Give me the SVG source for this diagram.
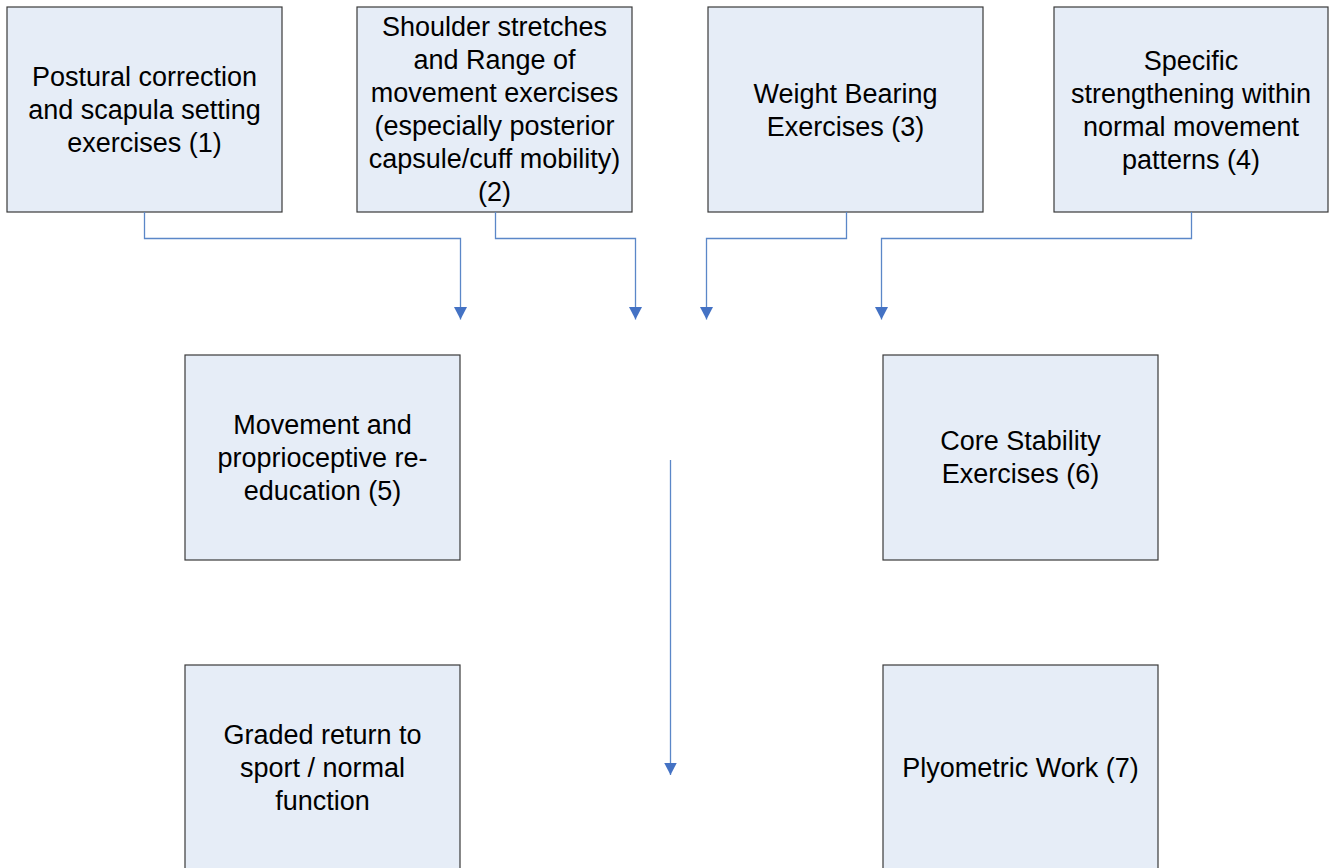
<svg xmlns="http://www.w3.org/2000/svg" width="1329" height="868" viewBox="0 0 1329 868">
<style>
.box{fill:#e6edf7;stroke:#3a3a3a;stroke-width:1.2}
.t{font-family:"Liberation Sans",Arial,sans-serif;font-size:27px;fill:#000;text-anchor:middle}
.c{fill:none;stroke:#5b87c8;stroke-width:1.3}
</style>
<defs>
<marker id="ah" markerWidth="13" markerHeight="14" refX="12.5" refY="7" orient="auto" markerUnits="userSpaceOnUse" viewBox="0 0 13 14">
<path d="M0,0.5 L12.5,7 L0,13.5 Z" fill="#4472c4"/>
</marker>
</defs>
<rect width="1329" height="868" fill="#fff"/>
<g id="n1"><rect class="box" x="7" y="7" width="275" height="205"/>
<text class="t" x="144.5" y="86">Postural correction</text><text class="t" x="144.5" y="119">and scapula setting</text><text class="t" x="144.5" y="152">exercises (1)</text></g>
<g id="n2"><rect class="box" x="357" y="7" width="275" height="205"/>
<text class="t" x="494.5" y="36">Shoulder stretches</text><text class="t" x="494.5" y="69">and Range of</text><text class="t" x="494.5" y="102">movement exercises</text><text class="t" x="494.5" y="135">(especially posterior</text><text class="t" x="494.5" y="168">capsule/cuff mobility)</text><text class="t" x="494.5" y="201">(2)</text></g>
<g id="n3"><rect class="box" x="708" y="7" width="275" height="205"/>
<text class="t" x="845.5" y="103">Weight Bearing</text><text class="t" x="845.5" y="136">Exercises (3)</text></g>
<g id="n4"><rect class="box" x="1054" y="7" width="274" height="205"/>
<text class="t" x="1191" y="70">Specific</text><text class="t" x="1191" y="103">strengthening within</text><text class="t" x="1191" y="136">normal movement</text><text class="t" x="1191" y="169">patterns (4)</text></g>
<g id="n5"><rect class="box" x="185" y="355" width="275" height="205"/>
<text class="t" x="322.5" y="434">Movement and</text><text class="t" x="322.5" y="467">proprioceptive re-</text><text class="t" x="322.5" y="500">education (5)</text></g>
<g id="n6"><rect class="box" x="883" y="355" width="275" height="205"/>
<text class="t" x="1020.5" y="450">Core Stability</text><text class="t" x="1020.5" y="483">Exercises (6)</text></g>
<g id="n7"><rect class="box" x="185" y="665" width="275" height="210"/>
<text class="t" x="322.5" y="744">Graded return to</text><text class="t" x="322.5" y="777">sport / normal</text><text class="t" x="322.5" y="810">function</text></g>
<g id="n8"><rect class="box" x="883" y="665" width="275" height="210"/>
<text class="t" x="1020.5" y="777">Plyometric Work (7)</text></g>
<g id="connectors">
<path class="c" d="M144.5,212 V238.5 H460.5 V319.5" marker-end="url(#ah)"/>
<path class="c" d="M495.5,212 V238.5 H635.5 V319.5" marker-end="url(#ah)"/>
<path class="c" d="M846.5,212 V238.5 H706.5 V319.5" marker-end="url(#ah)"/>
<path class="c" d="M1191.5,212 V238.5 H881.5 V319.5" marker-end="url(#ah)"/>
<path class="c" d="M670.5,460 V775" marker-end="url(#ah)"/>
</g>
</svg>
